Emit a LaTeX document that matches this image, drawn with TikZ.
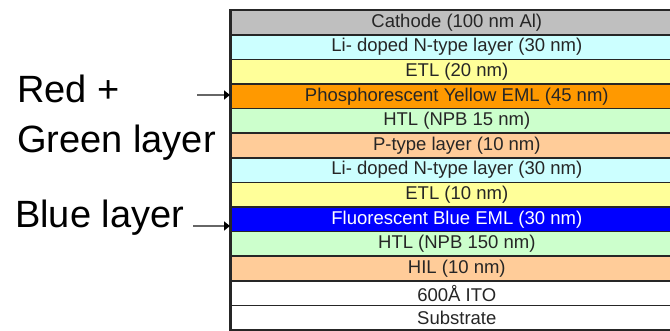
\documentclass[tikz,border=0pt]{standalone}
\usepackage{fontspec}
\setmainfont{Liberation Sans}
\usetikzlibrary{arrows.meta}
\definecolor{cathodegray}{HTML}{BFBFBF}
\definecolor{ltcyan}{HTML}{CCFFFF}
\definecolor{ltyellow}{HTML}{FFFF99}
\definecolor{eorange}{HTML}{FF9900}
\definecolor{ltgreen}{HTML}{CCFFCC}
\definecolor{peach}{HTML}{FFCC99}
\definecolor{eblue}{HTML}{0000FF}
\definecolor{edge}{HTML}{262626}
\tikzset{
  layer/.style={draw=edge, line width=1.6pt, minimum width=452pt, minimum height=24.6pt,
    inner sep=0pt, anchor=north west, font=\fontsize{18.5}{19}\selectfont, text=black!85},
  sidelabel/.style={anchor=base west, inner sep=0pt, font=\fontsize{38}{40}\selectfont, text=black},
  pointer/.style={draw=black!60, line width=1.6pt, -{Triangle[length=6pt,width=9pt,fill=black,color=black]}}
}
\begin{document}
\begin{tikzpicture}[x=1pt,y=1pt]
\useasboundingbox (0,0) rectangle (670,331);
\node[layer, fill=cathodegray] (L1) at (230,321.5) {Cathode (100 nm Al)};
\node[layer, fill=ltcyan] (L2) at (230,296.9) {Li- doped N-type layer (30 nm)};
\node[layer, fill=ltyellow] (L3) at (230,272.3) {ETL (20 nm)};
\node[layer, fill=eorange] (L4) at (230,247.7) {Phosphorescent Yellow EML (45 nm)};
\node[layer, fill=ltgreen] (L5) at (230,223.1) {HTL (NPB 15 nm)};
\node[layer, fill=peach] (L6) at (230,198.5) {P-type layer (10 nm)};
\node[layer, fill=ltcyan] (L7) at (230,173.9) {Li- doped N-type layer (30 nm)};
\node[layer, fill=ltyellow] (L8) at (230,149.3) {ETL (10 nm)};
\node[layer, fill=eblue, text=white] (L9) at (230,124.7) {Fluorescent Blue EML (30 nm)};
\node[layer, fill=ltgreen] (L10) at (230,100.1) {HTL (NPB 150 nm)};
\node[layer, fill=peach] (L11) at (230,75.5) {HIL (10 nm)};
\node[layer, fill=white] (L12) at (230,50.9) {600Å ITO};
\node[layer, fill=white] (L13) at (230,26.3) {Substrate};
\draw[draw=edge, line width=3pt] (L1.north west) -- (L13.south west);
\node[sidelabel] (red) at (17,228) {Red +};
\node[sidelabel] (green) at (17,178) {Green layer};
\node[sidelabel] (blue) at (15,103) {Blue layer};
\coordinate (ra) at (197,236);
\coordinate (ba) at (193,105);
\draw[pointer] (ra) -- (L4.west |- ra);
\draw[pointer] (ba) -- (L9.west |- ba);
\end{tikzpicture}
\end{document}
